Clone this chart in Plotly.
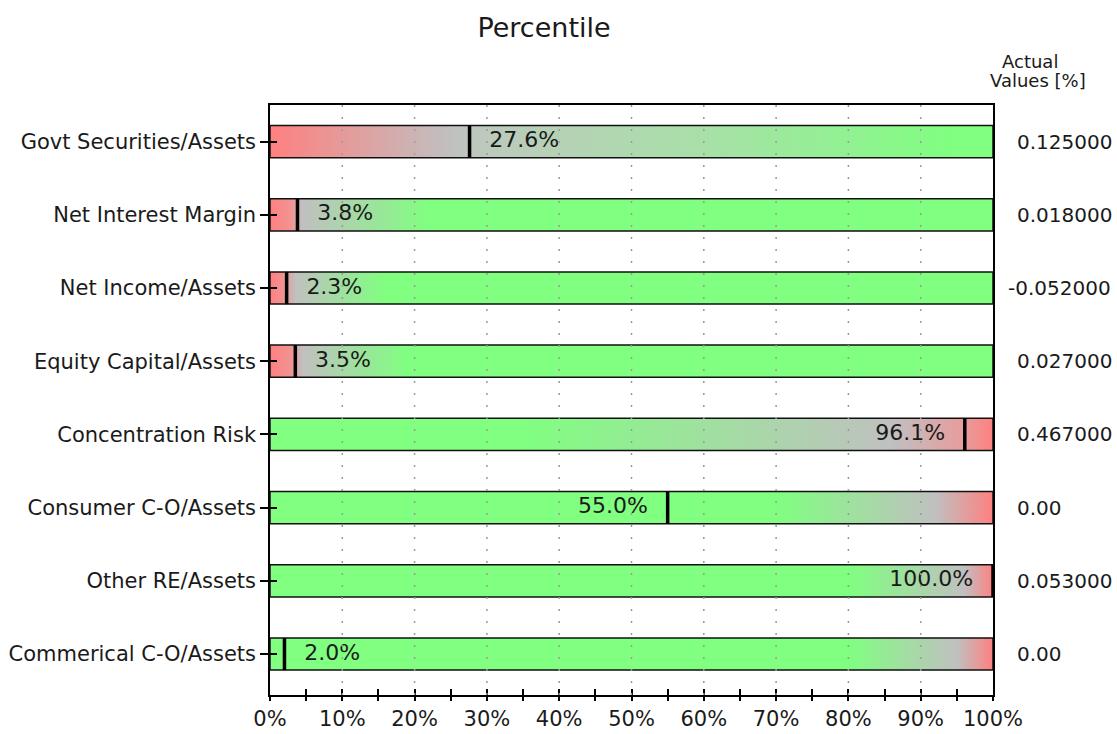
import plotly.graph_objects as go

# ---------------- data ----------------
CATEGORIES = [
    "Govt Securities/Assets",
    "Net Interest Margin",
    "Net Income/Assets",
    "Equity Capital/Assets",
    "Concentration Risk",
    "Consumer C-O/Assets",
    "Other RE/Assets",
    "Commerical C-O/Assets",
]
PERCENTILES = [27.6, 3.8, 2.3, 3.5, 96.1, 55.0, 100.0, 2.0]
ACTUAL_VALUES = [0.125, 0.018, -0.052, 0.027, 0.467, 0.0, 0.053, 0.0]
X_TICK_VALUES = list(range(0, 101, 5))
X_TICK_LABELS = [f"{v}%" if v % 10 == 0 else "" for v in X_TICK_VALUES]
GRID_VALUES = list(range(10, 100, 10))

# ---------------- style ----------------
RED, GREY, GREEN = "#ff8080", "#c0c0c0", "#80ff80"
GRADIENTS = [
    [[0, RED], [0.25, GREY], [0.30, "#bccabc"], [0.60, "#a8e0a8"], [0.95, GREEN], [1, GREEN]],
    [[0, RED], [0.03, "#f09494"], [0.045, GREY], [0.22, GREEN], [1, GREEN]],
    [[0, RED], [0.02, "#f09494"], [0.035, GREY], [0.16, GREEN], [1, GREEN]],
    [[0, RED], [0.03, "#f09494"], [0.045, GREY], [0.19, GREEN], [1, GREEN]],
    [[0, GREEN], [0.35, GREEN], [0.86, GREY], [0.96, "#e89c9c"], [1, RED]],
    [[0, GREEN], [0.70, GREEN], [0.92, GREY], [1, RED]],
    [[0, GREEN], [0.80, GREEN], [0.96, GREY], [1, RED]],
    [[0, GREEN], [0.80, GREEN], [0.95, GREY], [1, RED]],
]
FONT = "DejaVu Sans"
TXT = "#1a1a1a"
HALF = 0.22  # bar half height in category units

W, H = 1117, 734
L, R, T, B = 270, 124, 105, 39

fig = go.Figure()

ypos = list(range(len(CATEGORIES)))

# gradient bars (0..100 % track)
for y, grad in zip(ypos, GRADIENTS):
    fig.add_trace(go.Scatter(
        x=[0, 100, 100, 0, 0],
        y=[y - HALF, y - HALF, y + HALF, y + HALF, y - HALF],
        mode="lines",
        fill="toself",
        fillgradient=dict(type="horizontal", colorscale=grad, start=0, stop=100),
        line=dict(color="#111111", width=1.5),
        hoverinfo="skip",
        showlegend=False,
    ))

# percentile markers
fig.add_trace(go.Scatter(
    x=PERCENTILES,
    y=ypos,
    mode="markers",
    marker=dict(symbol="line-ns", size=23, line=dict(color="#000000", width=3.5)),
    hoverinfo="skip",
    showlegend=False,
))
# percentile labels (invisible marker sets the gap)
fig.add_trace(go.Scatter(
    x=PERCENTILES,
    y=ypos,
    mode="markers+text",
    marker=dict(size=30, opacity=0),
    text=[f"{p:.1f}%" for p in PERCENTILES],
    textposition=["middle right" if p < 50 else "middle left" for p in PERCENTILES],
    textfont=dict(family=FONT, size=22, color=TXT),
    hoverinfo="skip",
    showlegend=False,
))

# helper trace for the overlay axes (inner tick halves)
fig.add_trace(go.Scatter(x=[None], y=[None], xaxis="x2", yaxis="y2",
                         mode="markers", showlegend=False, hoverinfo="skip"))

# dotted grid lines drawn over the bars
for g in GRID_VALUES:
    fig.add_shape(type="line", xref="x", yref="paper", x0=g, x1=g, y0=0, y1=1,
                  layer="above", line=dict(color="#9a9a9a", width=1.5, dash="2px,10px"))

yr = [len(CATEGORIES) - 1 + 0.56, -0.5]

fig.update_layout(
    width=W, height=H,
    margin=dict(l=L, r=R, t=T, b=B, autoexpand=False),
    paper_bgcolor="white", plot_bgcolor="white",
    font=dict(family=FONT, color=TXT),
    title=dict(text="Percentile", x=544 / W, xref="container", xanchor="center",
               y=1 - 28 / H, yref="container", yanchor="middle",
               font=dict(family=FONT, size=27, color=TXT)),
    xaxis=dict(range=[0, 100], tickvals=X_TICK_VALUES, ticktext=X_TICK_LABELS,
               ticks="outside", ticklen=4, tickwidth=1.5, tickcolor="#000",
               showline=True, linecolor="#000", linewidth=1.5, mirror=True,
               showgrid=False, zeroline=False, ticklabelstandoff=0,
               tickfont=dict(family=FONT, size=21, color=TXT), layer="above traces"),
    yaxis=dict(range=yr, tickvals=ypos, ticktext=CATEGORIES,
               ticks="outside", ticklen=8, tickwidth=1.5, tickcolor="#000",
               showline=True, linecolor="#000", linewidth=1.5, mirror=True,
               showgrid=False, zeroline=False,
               tickfont=dict(family=FONT, size=21, color=TXT), layer="above traces"),
    xaxis2=dict(range=[0, 100], overlaying="x", anchor="y2", side="bottom",
                tickvals=X_TICK_VALUES, showticklabels=False,
                ticks="inside", ticklen=6, tickwidth=1.5, tickcolor="#000",
                showline=False, showgrid=False, zeroline=False, layer="above traces"),
    yaxis2=dict(range=yr, overlaying="y", anchor="x2", side="left",
                tickvals=ypos, showticklabels=False,
                ticks="inside", ticklen=7, tickwidth=1.5, tickcolor="#000",
                showline=False, showgrid=False, zeroline=False, layer="above traces"),
)

# right-hand "Actual Values" column
px_to_paper = lambda px: (px - L) / (W - L - R)
py_to_paper = lambda py: 1 + (T - py) / (H - T - B)
fig.add_annotation(text="Actual", xref="paper", yref="paper",
                   x=px_to_paper(1000), y=py_to_paper(61),
                   xanchor="left", yanchor="middle", showarrow=False,
                   font=dict(family=FONT, size=18, color=TXT))
fig.add_annotation(text="Values [%]", xref="paper", yref="paper",
                   x=px_to_paper(988), y=py_to_paper(81),
                   xanchor="left", yanchor="middle", showarrow=False,
                   font=dict(family=FONT, size=18, color=TXT))
for y, v in zip(ypos, ACTUAL_VALUES):
    label = "0.00" if v == 0 else f"{v:.6f}"
    fig.add_annotation(text=label, xref="paper", yref="y",
                       x=px_to_paper(1015 if v >= 0 else 1006),
                       y=y, xanchor="left", yanchor="middle", showarrow=False,
                       font=dict(family=FONT, size=20, color=TXT))

fig.write_html(
    "out.html",
    config={"displayModeBar": False},
    post_script="document.body.style.margin='0';document.body.style.overflow='hidden';",
)
